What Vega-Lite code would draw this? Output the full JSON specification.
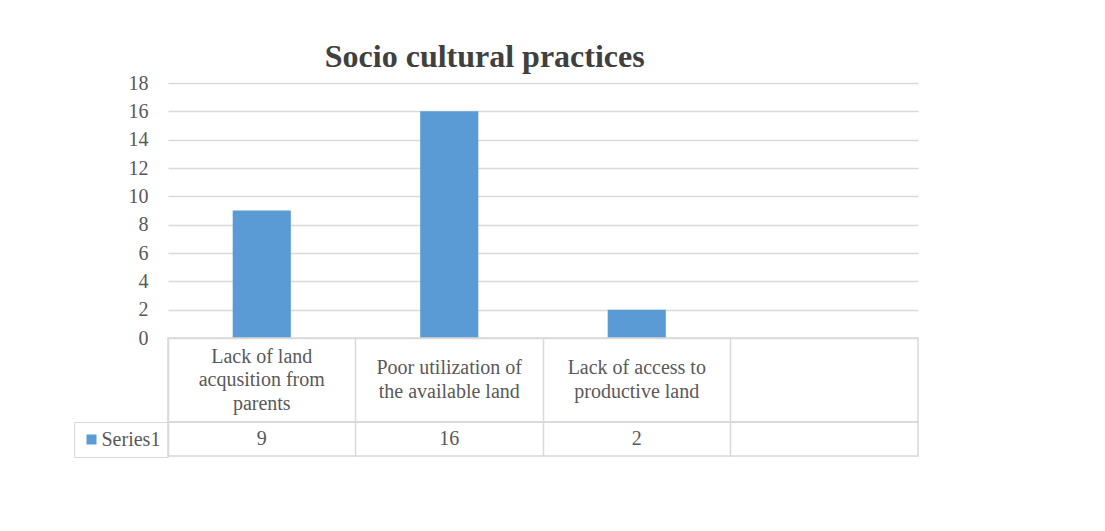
{
  "$schema": "https://vega.github.io/schema/vega-lite/v6.json",
  "background": "white",
  "padding": {"left": 72, "top": 41, "right": 150, "bottom": 60},
  "bounds": "flush",
  "spacing": 0,
  "title": {"text": "Socio cultural practices", "font": "Liberation Serif", "fontSize": 32, "fontWeight": "bold", "color": "#404040", "anchor": "middle", "offset": -1, "dx": -11},
  "data": {"values": [
    {"category": "Lack of land acqusition from parents", "label": "Lack of land\nacqusition from\nparents", "value": 9, "series": "Series1"},
    {"category": "Poor utilization of the available land", "label": "Poor utilization of\nthe available land", "value": 16, "series": "Series1"},
    {"category": "Lack of access to productive land", "label": "Lack of access to\nproductive land", "value": 2, "series": "Series1"},
    {"category": " ", "label": "", "value": null, "series": "Series1"}
  ]},
  "resolve": {"scale": {"x": "independent", "y": "independent", "color": "independent"}, "legend": {"color": "independent"}},
  "vconcat": [
    {
      "width": 750, "height": 255,
      "view": {"stroke": null},
      "mark": {"type": "bar", "color": "#5b9bd5"},
      "encoding": {
        "x": {"field": "category", "type": "nominal", "scale": {"type": "band", "domain": ["Lack of land acqusition from parents", "Poor utilization of the available land", "Lack of access to productive land", " "], "paddingInner": 0.69, "paddingOuter": 0.345}, "axis": null},
        "y": {"field": "value", "type": "quantitative", "scale": {"domain": [0, 18]}, "axis": {"values": [0, 2, 4, 6, 8, 10, 12, 14, 16, 18], "title": null, "domain": false, "ticks": false, "tickSize": 0, "labelPadding": 20, "labelFont": "Liberation Serif", "labelFontSize": 20, "labelColor": "#595959", "gridColor": "#d9d9d9", "gridWidth": 1.5}}
      }
    },
    {
      "width": 750, "height": 84,
      "view": {"stroke": "#d9d9d9", "strokeWidth": 1.5},
      "mark": {"type": "text", "lineBreak": "\n", "font": "Liberation Serif", "fontSize": 20, "lineHeight": 23.5, "color": "#595959", "baseline": "middle", "dy": {"expr": "-(length(split(datum.label, '\\n')) - 1) * 11.75"}},
      "encoding": {
        "x": {"field": "category", "type": "nominal", "scale": {"type": "band", "domain": ["Lack of land acqusition from parents", "Poor utilization of the available land", "Lack of access to productive land", " "], "padding": 0}, "axis": {"title": null, "labels": false, "ticks": false, "domain": false, "grid": true, "bandPosition": 0, "gridColor": "#d9d9d9", "gridWidth": 1.5}},
        "text": {"field": "label", "type": "nominal"}
      }
    },
    {
      "width": 750, "height": 34,
      "view": {"stroke": "#d9d9d9", "strokeWidth": 1.5},
      "layer": [
        {
          "transform": [{"filter": "isValid(datum.value)"}],
          "mark": {"type": "text", "font": "Liberation Serif", "fontSize": 20, "color": "#595959", "baseline": "middle"},
          "encoding": {
            "x": {"field": "category", "type": "nominal", "scale": {"type": "band", "domain": ["Lack of land acqusition from parents", "Poor utilization of the available land", "Lack of access to productive land", " "], "padding": 0}, "axis": {"title": null, "labels": false, "ticks": false, "domain": false, "grid": true, "bandPosition": 0, "gridColor": "#d9d9d9", "gridWidth": 1.5}},
            "text": {"field": "value", "type": "quantitative"}
          }
        },
        {
          "mark": {"type": "bar", "opacity": 0},
          "encoding": {
            "x": {"field": "category", "type": "nominal"},
            "color": {"field": "series", "type": "nominal", "scale": {"range": ["#5b9bd5"]}, "legend": {"orient": "left", "offset": 0, "title": null, "padding": 7.5, "columnPadding": 0, "strokeColor": "#d9d9d9", "symbolType": "square", "symbolSize": 100, "symbolOpacity": 1, "symbolStrokeWidth": 0, "symbolFillColor": "#5b9bd5", "labelFont": "Liberation Serif", "labelFontSize": 20, "labelColor": "#595959", "labelOffset": 0}}
          }
        }
      ]
    }
  ]
}
